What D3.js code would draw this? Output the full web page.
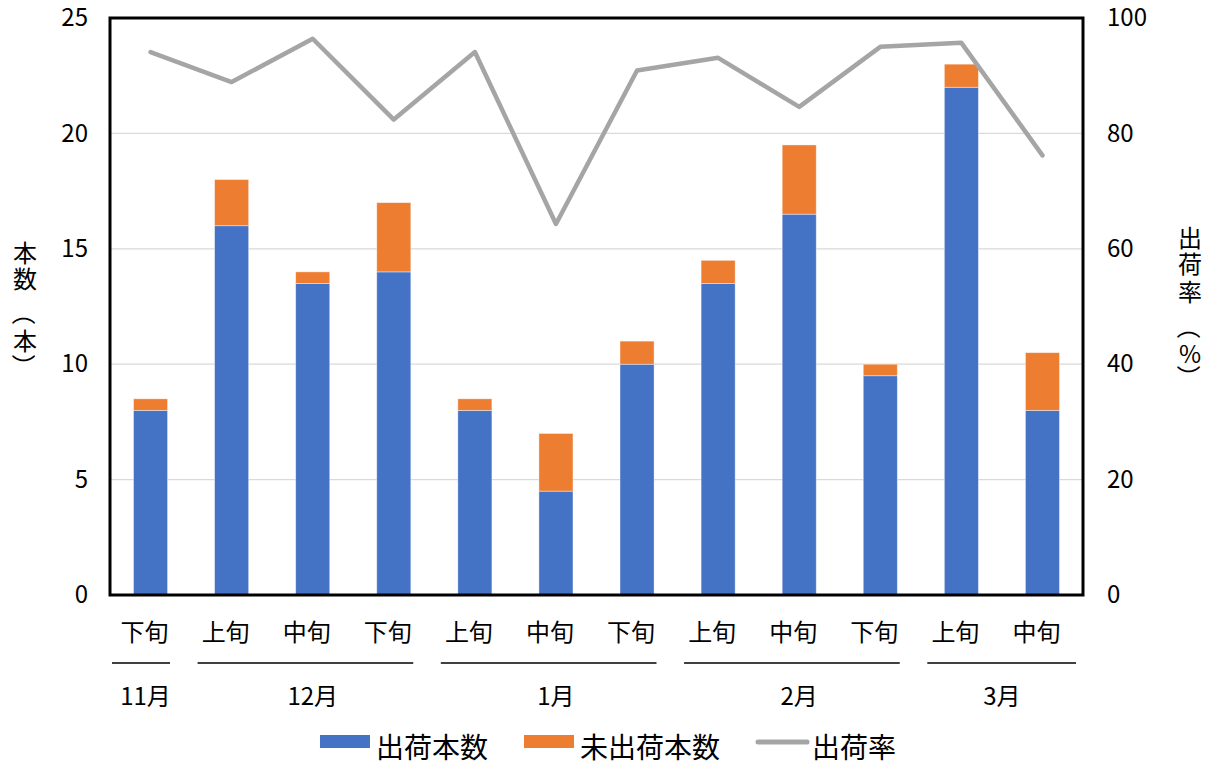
<!DOCTYPE html>
<html lang="ja">
<head>
<meta charset="utf-8">
<script src="https://cdn.jsdelivr.net/npm/d3@7"></script>
<style>
  html, body { margin: 0; padding: 0; background: #fff; }
  svg { display: block; font-family: "Noto Sans CJK JP", "Noto Sans", sans-serif; }
</style>
</head>
<body>
<svg id="chart" width="1213" height="763"></svg>
<script>
// 旬ごとの出荷実績
const periods = ["下旬", "上旬", "中旬", "下旬", "上旬", "中旬", "下旬", "上旬", "中旬", "下旬", "上旬", "中旬"];
const periodMonth = ["11月", "12月", "12月", "12月", "1月", "1月", "1月", "2月", "2月", "2月", "3月", "3月"];
const shipped = [8, 16, 13.5, 14, 8, 4.5, 10, 13.5, 16.5, 9.5, 22, 8];
const unshipped = [0.5, 2, 0.5, 3, 0.5, 2.5, 1, 1, 3, 0.5, 1, 2.5];
const shipRate = [94.1, 88.9, 96.4, 82.4, 94.1, 64.3, 90.9, 93.1, 84.6, 95.0, 95.7, 76.2];
const leftTicks = [0, 5, 10, 15, 20, 25];
const rightTicks = [0, 20, 40, 60, 80, 100];
const seriesNames = ["出荷本数", "未出荷本数", "出荷率"];
const leftTitle = "本数（本）";
const rightTitle = "出荷率（%）";

const colors = { shipped: "#4472c4", unshipped: "#ed7d31", rate: "#a5a5a5" };

const svg = d3.select("#chart");
const plot = { left: 110, right: 1083, top: 18, bottom: 595 };

const x = d3.scaleBand()
  .domain(d3.range(periods.length))
  .range([plot.left, plot.right])
  .paddingInner(0.58)
  .paddingOuter(0.29);
const yL = d3.scaleLinear().domain([0, 25]).range([plot.bottom, plot.top]);
const yR = d3.scaleLinear().domain([0, 100]).range([plot.bottom, plot.top]);

// 目盛線
svg.append("g")
  .selectAll("line")
  .data(leftTicks.filter(t => t > 0 && t < 25))
  .join("line")
  .attr("x1", plot.left).attr("x2", plot.right)
  .attr("y1", d => yL(d)).attr("y2", d => yL(d))
  .attr("stroke", "#d9d9d9").attr("stroke-width", 1.3);

// 積み上げ棒
const stackData = periods.map((p, i) => ({ i, shipped: shipped[i], unshipped: unshipped[i] }));
const stacked = d3.stack().keys(["shipped", "unshipped"])(stackData);
svg.append("g")
  .selectAll("g")
  .data(stacked)
  .join("g")
  .attr("fill", s => colors[s.key])
  .selectAll("rect")
  .data(s => s)
  .join("rect")
  .attr("x", d => x(d.data.i))
  .attr("width", x.bandwidth())
  .attr("y", d => yL(d[1]))
  .attr("height", d => yL(d[0]) - yL(d[1]))
  .attr("stroke", "#ffffff").attr("stroke-opacity", 0.5).attr("stroke-width", 0.8);

// 出荷率の折れ線
const line = d3.line()
  .x((d, i) => x(i) + x.bandwidth() / 2)
  .y(d => yR(d));
svg.append("path")
  .datum(shipRate)
  .attr("d", line)
  .attr("fill", "none")
  .attr("stroke", colors.rate)
  .attr("stroke-width", 4.5)
  .attr("stroke-linejoin", "round")
  .attr("stroke-linecap", "round");

// 枠線
svg.append("rect")
  .attr("x", plot.left).attr("y", plot.top)
  .attr("width", plot.right - plot.left).attr("height", plot.bottom - plot.top)
  .attr("fill", "none").attr("stroke", "#000").attr("stroke-width", 3);

// 左軸
const axisL = d3.axisLeft(yL).tickValues(leftTicks).tickSize(0).tickPadding(22);
const gL = svg.append("g").attr("transform", `translate(${plot.left},0)`).call(axisL);
gL.select(".domain").remove();
gL.selectAll("text").attr("font-size", 24).attr("fill", "#000").attr("font-family", "Noto Sans CJK JP");

// 右軸
const axisR = d3.axisRight(yR).tickValues(rightTicks).tickSize(0).tickPadding(24);
const gR = svg.append("g").attr("transform", `translate(${plot.right},0)`).call(axisR);
gR.select(".domain").remove();
gR.selectAll("text").attr("font-size", 24).attr("fill", "#000").attr("font-family", "Noto Sans CJK JP");

// 軸タイトル（縦書き）：1文字ずつ積み、括弧は90度回して縦組み用の向きにする
function verticalTitle(cx, ys, str) {
  const chars = Array.from(str);
  const g = svg.append("g").attr("aria-label", str);
  chars.forEach((c, k) => {
    const isBracket = c === "（" || c === "）";
    g.append("text")
      .attr("x", cx).attr("y", ys[k])
      .attr("text-anchor", "middle")
      .attr("dominant-baseline", "central")
      .attr("font-size", 24)
      .attr("transform", isBracket ? `rotate(90,${cx},${ys[k]})` : null)
      .text(c);
  });
}
verticalTitle(25, [251, 277, 313, 339, 366], leftTitle);
verticalTitle(1190, [236, 262, 290, 327, 352, 377], rightTitle);

// 旬ラベル
svg.append("g")
  .selectAll("text")
  .data(periods)
  .join("text")
  .attr("x", (d, i) => x(i) + x.bandwidth() / 2 - 6)
  .attr("y", 630)
  .attr("text-anchor", "middle")
  .attr("dominant-baseline", "central")
  .attr("font-size", 24)
  .text(d => d);

// 月ラベルと区切り線
const groups = [];
periodMonth.forEach((m, i) => {
  const last = groups[groups.length - 1];
  if (last && last.name === m) last.end = i;
  else groups.push({ name: m, start: i, end: i });
});
const step = x.step();
const groupStart = g => x(g.start) - x.paddingOuter() * step;
const groupEnd = g => x(g.end) + x.bandwidth() + x.paddingOuter() * step;

svg.append("g")
  .selectAll("line")
  .data(groups)
  .join("line")
  .attr("x1", g => groupStart(g) + (g.start === 0 ? 2 : 0.08 * step))
  .attr("x2", (g, k) => k === groups.length - 1 ? plot.right - 7 : groupEnd(g) - 0.26 * step)
  .attr("y1", 663).attr("y2", 663)
  .attr("stroke", "#000").attr("stroke-width", 1.5);

svg.append("g")
  .selectAll("text")
  .data(groups)
  .join("text")
  .attr("x", g => (groupStart(g) + groupEnd(g)) / 2 - (g.start === 0 ? 5 : 0))
  .attr("y", 694)
  .attr("text-anchor", "middle")
  .attr("dominant-baseline", "central")
  .attr("font-size", 24)
  .text(g => g.name);

// 凡例
const legend = svg.append("g");
const legendItems = [
  { name: seriesNames[0], type: "rect", color: colors.shipped },
  { name: seriesNames[1], type: "rect", color: colors.unshipped },
  { name: seriesNames[2], type: "line", color: colors.rate }
];
let lx = 0;
legendItems.forEach(item => {
  const g = legend.append("g").attr("transform", `translate(${lx},0)`);
  if (item.type === "rect") {
    g.append("rect").attr("x", 0).attr("y", -7).attr("width", 50).attr("height", 13).attr("fill", item.color);
  } else {
    g.append("line").attr("x1", 2).attr("x2", 51).attr("y1", 0).attr("y2", 0)
      .attr("stroke", item.color).attr("stroke-width", 5).attr("stroke-linecap", "round");
  }
  const t = g.append("text")
    .attr("x", 56).attr("y", 4)
    .attr("dominant-baseline", "central")
    .attr("font-size", 28)
    .text(item.name);
  const w = 56 + t.node().getComputedTextLength();
  lx += w + 36;
});
const legendWidth = lx - 36;
legend.attr("transform", `translate(${608 - legendWidth / 2},742)`);
</script>
</body>
</html>
